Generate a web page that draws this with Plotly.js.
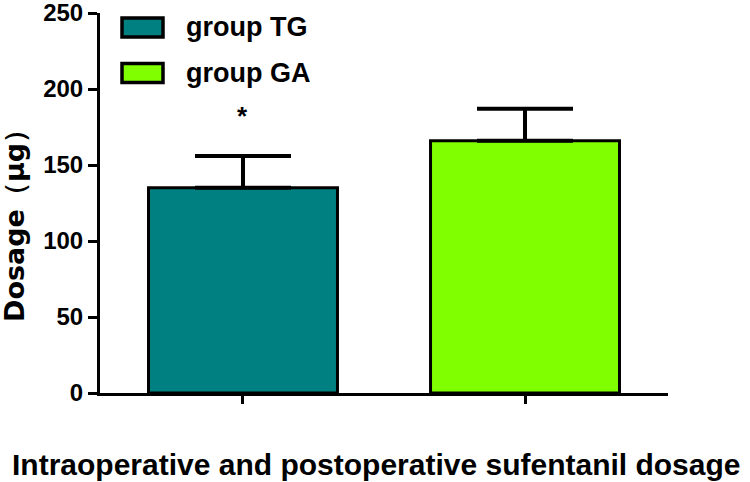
<!DOCTYPE html>
<html><head><meta charset="utf-8">
<script src="https://cdn.plot.ly/plotly-3.0.1.min.js"></script>
<style>body{margin:0;background:#fff}</style>
</head><body><div id="chart" style="width:750px;height:482px"></div>
<script>
const groups = ["group TG", "group GA"];
const means = [135, 166];
const errors = [21, 21];
const colors = ["#008080", "#80FF00"];
const yTicks = [0, 50, 100, 150, 200, 250];
const marks = ["*", ""];
const xTitle = "Intraoperative and postoperative sufentanil dosage";
const yTitle = "Dosage（μg）";

const F = "Liberation Sans, Arial, sans-serif";
const L = 100, R = 82, T = 13, B = 89, W = 750, H = 482;
const pw = W - L - R, ph = H - T - B;
const px = x => (x - L) / pw;
const py = y => (H - B - y) / ph;

const traces = groups.map((g, i) => ({
  type: "bar", x: [g], y: [means[i]], width: 0.67, name: g, showlegend: false,
  marker: {color: colors[i], line: {color: "#000", width: 3}},
  error_y: {type: "data", symmetric: false, array: [errors[i]], arrayminus: [0],
    color: "#000", thickness: 4, width: 48}
}));

const shapes = [], annotations = [];
groups.forEach((g, i) => {
  const top = 18 + i * 45.5;
  shapes.push({type: "rect", xref: "paper", yref: "paper",
    x0: px(122), x1: px(163), y0: py(top), y1: py(top + 19),
    fillcolor: colors[i], line: {color: "#000", width: 3.5}});
  annotations.push({xref: "paper", yref: "paper", x: px(184), y: py(top + 9.5),
    xanchor: "left", yanchor: "middle", showarrow: false, text: g,
    font: {family: F, size: 27, weight: 700, color: "#000"}});
  if (marks[i]) annotations.push({x: g, y: means[i] + errors[i], yshift: 40,
    xanchor: "center", yanchor: "middle", showarrow: false, text: marks[i],
    font: {family: F, size: 26, weight: 700, color: "#000"}});
});
// axis titles
annotations.push({xref: "paper", yref: "paper", x: px(376), y: py(464),
  xanchor: "center", yanchor: "middle", showarrow: false, text: xTitle,
  font: {family: F, size: 30, weight: 700, color: "#000"}});
annotations.push({xref: "paper", yref: "paper", x: px(14), y: py(219),
  xanchor: "center", yanchor: "middle", showarrow: false, text: yTitle, textangle: -90,
  font: {family: "DejaVu Sans, sans-serif", size: 27, weight: 700, color: "#000"}});

const layout = {
  width: W, height: H, margin: {l: L, r: R, t: T, b: B},
  paper_bgcolor: "#fff", plot_bgcolor: "#fff", barmode: "overlay",
  showlegend: false,
  xaxis: {type: "category", range: [-0.507, 1.507], showline: true, linewidth: 3,
    linecolor: "#000", ticks: "outside", ticklen: 8, tickwidth: 3, tickcolor: "#000",
    showticklabels: false, showgrid: false, zeroline: false, automargin: false},
  yaxis: {range: [0, 250], tickvals: yTicks, ticktext: yTicks.map(String),
    ticklabeloverflow: "allow",
    showline: true, linewidth: 3, linecolor: "#000", ticks: "outside", ticklen: 9,
    tickwidth: 3, tickcolor: "#000", showgrid: false, zeroline: false, automargin: false,
    tickfont: {family: F, size: 24, weight: 700, color: "#000"}},
  shapes, annotations
};
Plotly.newPlot("chart", traces, layout, {displayModeBar: false, staticPlot: true});
</script></body></html>
